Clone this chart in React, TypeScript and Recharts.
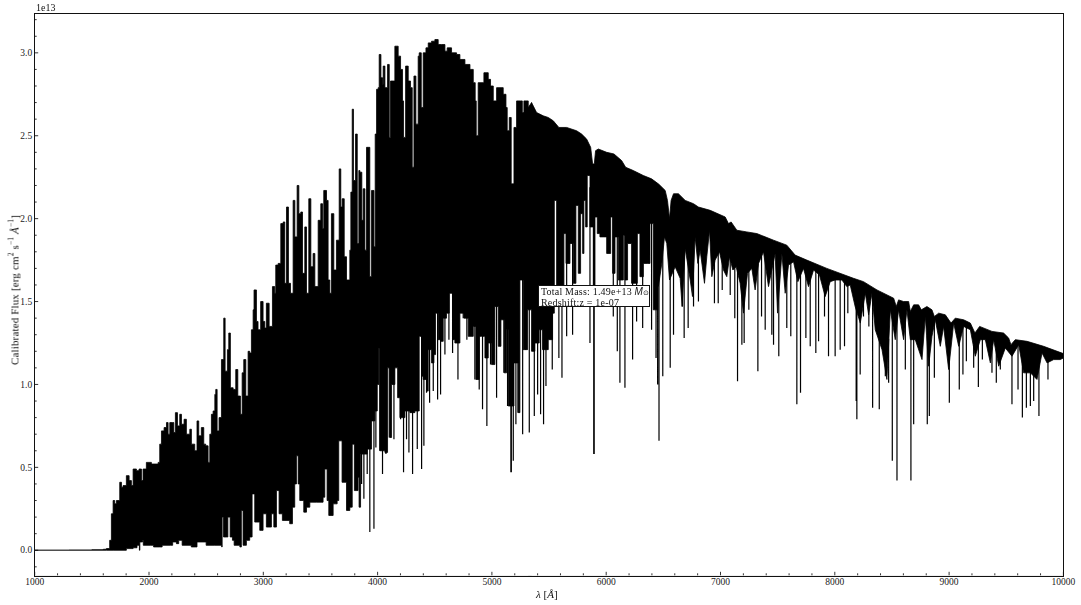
import { ComposedChart, Area, Line, XAxis, YAxis } from 'recharts'

const FONT = '"Liberation Serif", serif'
const WIDTH = 1081
const HEIGHT = 605
const Y_MIN = -0.151
const Y_MAX = 3.236
// above these wavelengths the edges of the spectrum stop being blocky
const SMOOTH_TOP_FROM = 5318
const SMOOTH_BOTTOM_FROM = 6456

const xTicks = [1000, 1200, 1400, 1600, 1800, 2000, 2200, 2400, 2600, 2800, 3000, 3200, 3400, 3600, 3800, 4000, 4200, 4400, 4600, 4800, 5000, 5200, 5400, 5600, 5800, 6000, 6200, 6400, 6600, 6800, 7000, 7200, 7400, 7600, 7800, 8000, 8200, 8400, 8600, 8800, 9000, 9200, 9400, 9600, 9800, 10000]
const yTicks = [-0.1, 0, 0.1, 0.2, 0.3, 0.4, 0.5, 0.6, 0.7, 0.8, 0.9, 1, 1.1, 1.2, 1.3, 1.4, 1.5, 1.6, 1.7, 1.8, 1.9, 2, 2.1, 2.2, 2.3, 2.4, 2.5, 2.6, 2.7, 2.8, 2.9, 3, 3.1, 3.2]

// upper edge of the spectrum, [wavelength, flux in 1e13]
const topEdge: number[][] = [
  [1000, 0], [1300, 0.001], [1500, 0.003], [1600, 0.006], [1627, 0.01], [1656, 0.06], [1671, 0.22], [1686, 0.3], [1700, 0.28], [1715, 0.3],
  [1744, 0.41], [1759, 0.38], [1773, 0.39], [1802, 0.45], [1826, 0.42], [1846, 0.39], [1861, 0.49], [1890, 0.48], [1913, 0.49], [1934, 0.42],
  [1948, 0.49], [1977, 0.53], [2021, 0.52], [2080, 0.53], [2094, 0.64], [2109, 0.72], [2132, 0.74], [2153, 0.77], [2167, 0.7], [2182, 0.77],
  [2205, 0.77], [2217, 0.71], [2231, 0.83], [2249, 0.75], [2269, 0.82], [2284, 0.76], [2307, 0.79], [2327, 0.7], [2357, 0.73], [2371, 0.64],
  [2400, 0.6], [2420, 0.78], [2435, 0.69], [2458, 0.74], [2479, 0.64], [2496, 0.63], [2517, 0.53], [2532, 0.7], [2546, 0.82], [2561, 0.84],
  [2576, 0.94], [2584, 0.97], [2596, 0.72], [2613, 0.8], [2634, 1.15], [2654, 1.4], [2666, 1.08], [2686, 1.21], [2698, 1.31], [2712, 0.98],
  [2736, 0.97], [2759, 1.09], [2777, 0.93], [2800, 0.82], [2815, 1.07], [2829, 1.15], [2847, 0.93], [2867, 1.2], [2881, 1.19], [2896, 1.33],
  [2911, 1.45], [2919, 1.57], [2940, 1.38], [2954, 1.33], [2977, 1.5], [2998, 1.38], [3013, 1.34], [3027, 1.49], [3051, 1.35], [3080, 1.59],
  [3100, 1.55], [3109, 1.72], [3130, 1.73], [3153, 1.97], [3174, 1.98], [3188, 1.61], [3203, 2.07], [3220, 1.61], [3238, 1.55], [3261, 2.11],
  [3276, 1.89], [3296, 2.2], [3311, 2.03], [3328, 2.04], [3343, 1.67], [3363, 1.95], [3378, 1.55], [3398, 2.12], [3416, 1.71], [3436, 1.79],
  [3451, 1.59], [3480, 1.99], [3503, 2.09], [3518, 1.94], [3529, 2.17], [3553, 2.11], [3567, 1.63], [3582, 1.55], [3596, 2.03], [3617, 1.69],
  [3640, 1.87], [3664, 2.3], [3678, 2.07], [3690, 2.12], [3708, 1.77], [3728, 1.63], [3757, 1.81], [3766, 2.16], [3778, 2.66], [3789, 2.23],
  [3807, 2.51], [3822, 1.85], [3836, 2.29], [3845, 2.28], [3862, 1.99], [3874, 2.18], [3889, 1.81], [3903, 2.43], [3921, 2.43], [3932, 1.65],
  [3947, 2.17], [3968, 1.83], [3979, 2.51], [3991, 2.78], [4005, 2.79], [4014, 2.99], [4029, 2.85], [4043, 2.81], [4049, 2.92], [4064, 2.79],
  [4087, 2.93], [4102, 2.49], [4113, 2.83], [4137, 2.83], [4151, 3.04], [4180, 2.98], [4201, 2.9], [4218, 2.71], [4227, 2.49], [4245, 2.92],
  [4268, 2.83], [4288, 2.79], [4303, 2.31], [4318, 2.86], [4335, 2.57], [4355, 2.98], [4364, 3.0], [4382, 2.67], [4399, 3.0], [4423, 3.03],
  [4443, 3.06], [4472, 3.07], [4501, 3.08], [4530, 3.05], [4560, 3.05], [4589, 3.01], [4609, 3.03], [4647, 3.0], [4691, 2.99], [4720, 2.96],
  [4764, 2.93], [4808, 2.9], [4837, 2.82], [4854, 2.71], [4863, 2.5], [4880, 2.82], [4930, 2.88], [4968, 2.84], [4988, 2.8], [5012, 2.71],
  [5041, 2.79], [5099, 2.75], [5123, 2.67], [5134, 2.53], [5152, 2.61], [5169, 2.21], [5181, 2.21], [5193, 2.55], [5216, 2.71], [5251, 2.71],
  [5266, 2.64], [5280, 2.71], [5318, 2.67], [5347, 2.7], [5391, 2.64], [5449, 2.62], [5493, 2.61], [5537, 2.59], [5586, 2.55], [5654, 2.55],
  [5741, 2.53], [5785, 2.51], [5829, 2.48], [5864, 2.43], [5881, 2.33], [5896, 2.33], [5907, 2.41], [5931, 2.42], [6004, 2.4], [6068, 2.39],
  [6135, 2.35], [6170, 2.31], [6237, 2.29], [6325, 2.26], [6397, 2.24], [6456, 2.21], [6472, 2.2], [6516, 2.17], [6536, 2.11], [6554, 2.0],
  [6568, 2.11], [6589, 2.15], [6632, 2.15], [6691, 2.11], [6764, 2.09], [6807, 2.07], [6910, 2.05], [7041, 2.01], [7070, 1.97], [7093, 1.98],
  [7143, 1.93], [7230, 1.92], [7318, 1.91], [7464, 1.87], [7580, 1.84], [7653, 1.78], [7755, 1.75], [7930, 1.7], [8164, 1.64], [8251, 1.62],
  [8369, 1.57], [8515, 1.52], [8538, 1.47], [8558, 1.51], [8602, 1.5], [8646, 1.5], [8661, 1.44], [8690, 1.48], [8733, 1.48], [8757, 1.45],
  [8806, 1.47], [8850, 1.45], [8871, 1.41], [8909, 1.43], [8967, 1.42], [9017, 1.37], [9054, 1.4], [9127, 1.39], [9186, 1.37], [9226, 1.31],
  [9267, 1.35], [9375, 1.32], [9477, 1.31], [9521, 1.28], [9541, 1.24], [9579, 1.27], [9682, 1.26], [9827, 1.23], [10000, 1.186],
]

// lower edge of the solid black mass
const bottomEdge: number[][] = [
  [1000, 0], [1627, 0], [1686, 0], [1802, 0.01], [1861, 0.015], [1895, 0.03], [1916, 0], [1920, 0.05], [1944, 0.06], [1950, 0.03],
  [2010, 0.03], [2040, 0.02], [2090, 0.02], [2115, 0.03], [2190, 0.03], [2207, 0.05], [2240, 0.04], [2260, 0.06], [2290, 0.03], [2370, 0.02],
  [2410, 0.02], [2420, 0.05], [2500, 0.03], [2570, 0.03], [2636, 0.02], [2640, 0.2], [2652, 0.08], [2680, 0.08], [2690, 0.2], [2710, 0.08],
  [2730, 0.06], [2745, 0.03], [2795, 0.02], [2808, 0.24], [2823, 0.03], [2852, 0.06], [2881, 0.08], [2902, 0.34], [2925, 0.17], [2969, 0.12],
  [2998, 0.22], [3027, 0.14], [3071, 0.22], [3092, 0.14], [3115, 0.36], [3138, 0.22], [3167, 0.18], [3231, 0.16], [3255, 0.26], [3275, 0.4],
  [3290, 0.57], [3305, 0.4], [3319, 0.3], [3354, 0.23], [3378, 0.26], [3407, 0.29], [3465, 0.29], [3523, 0.32], [3538, 0.49], [3558, 0.3],
  [3573, 0.21], [3611, 0.28], [3646, 0.3], [3660, 0.66], [3689, 0.41], [3728, 0.24], [3757, 0.26], [3778, 0.64], [3797, 0.36], [3829, 0.44],
  [3838, 0.26], [3851, 0.58], [3909, 0.61], [3947, 0.78], [3976, 0.84], [3997, 1.0], [4011, 1.22], [4020, 0.6], [4064, 0.59], [4087, 1.1],
  [4107, 0.68], [4122, 1.0], [4151, 1.1], [4175, 0.92], [4195, 0.8], [4239, 0.84], [4283, 0.83], [4326, 0.84], [4364, 1.29], [4385, 1.05],
  [4399, 1.03], [4428, 0.96], [4443, 1.21], [4472, 1.13], [4493, 1.18], [4507, 1.43], [4530, 1.27], [4551, 1.26], [4574, 1.4], [4603, 1.43],
  [4627, 1.55], [4656, 1.27], [4676, 1.25], [4720, 1.43], [4755, 1.4], [4793, 1.29], [4837, 1.35], [4860, 1.03], [4889, 1.29], [4910, 1.29],
  [4939, 1.16], [4968, 1.25], [4997, 1.12], [5026, 1.47], [5056, 1.23], [5079, 1.39], [5108, 1.07], [5128, 1.33], [5143, 0.87], [5193, 1.13],
  [5231, 0.83], [5245, 1.63], [5274, 1.21], [5312, 1.45], [5347, 1.2], [5376, 1.25], [5414, 1.33], [5443, 1.21], [5493, 1.27], [5531, 1.43],
  [5546, 2.11], [5566, 1.59], [5610, 1.59], [5630, 1.91], [5648, 1.73], [5683, 1.85], [5712, 1.61], [5735, 2.08], [5756, 1.67], [5776, 2.03],
  [5794, 1.79], [5805, 2.11], [5820, 1.95], [5834, 2.26], [5858, 1.95], [5887, 1.59], [5902, 2.01], [5922, 1.91], [5945, 1.89], [5974, 1.89],
  [6004, 1.79], [6039, 2.01], [6056, 1.67], [6077, 1.89], [6106, 1.63], [6150, 1.9], [6164, 1.63], [6187, 1.85], [6222, 1.61], [6272, 1.91],
  [6295, 1.65], [6325, 1.73], [6359, 1.73], [6383, 1.97], [6412, 1.45], [6456, 1.59], [6487, 1.73], [6510, 1.89], [6530, 1.85], [6554, 1.63],
  [6603, 1.71], [6647, 1.64], [6664, 1.47], [6691, 1.82], [6735, 1.63], [6755, 1.53], [6778, 1.89], [6802, 1.73], [6822, 1.81], [6860, 1.61],
  [6880, 1.77], [6904, 1.93], [6924, 1.65], [6953, 1.75], [6991, 1.8], [7026, 1.69], [7055, 1.65], [7079, 1.77], [7108, 1.69], [7137, 1.71],
  [7172, 1.61], [7201, 1.43], [7236, 1.67], [7274, 1.7], [7303, 1.57], [7333, 1.73], [7376, 1.8], [7420, 1.59], [7478, 1.79], [7499, 1.43],
  [7537, 1.79], [7566, 1.55], [7595, 1.72], [7639, 1.74], [7677, 1.62], [7726, 1.7], [7770, 1.59], [7814, 1.69], [7866, 1.66], [7916, 1.53],
  [7960, 1.62], [8003, 1.63], [8062, 1.63], [8105, 1.59], [8135, 1.6], [8178, 1.47], [8223, 1.37], [8267, 1.55], [8296, 1.42], [8325, 1.55],
  [8354, 1.33], [8413, 1.21], [8456, 1.03], [8486, 1.45], [8529, 1.27], [8558, 1.45], [8602, 1.27], [8631, 1.45], [8661, 1.27], [8704, 1.27],
  [8763, 1.15], [8792, 1.41], [8821, 1.11], [8850, 1.29], [8879, 1.39], [8923, 1.23], [8952, 1.35], [8996, 1.09], [9040, 1.37], [9084, 1.23],
  [9127, 1.35], [9186, 1.33], [9229, 1.17], [9273, 1.27], [9317, 1.27], [9361, 1.13], [9390, 1.27], [9434, 1.11], [9492, 1.22], [9550, 1.17],
  [9609, 1.24], [9652, 1.07], [9711, 1.07], [9769, 1.03], [9813, 1.19], [9857, 1.13], [9915, 1.15], [9973, 1.15], [10000, 1.16],
]

// narrow absorption lines reaching below the mass
const dipLines: number[][] = [
  [3860, 0.4], [3880, 0.31], [3909, 0.46], [3932, 0.11], [3968, 0.13], [3985, 0.62], [4020, 0.6], [4043, 0.46], [4073, 0.58], [4102, 0.68],
  [4143, 0.67], [4201, 0.79], [4227, 0.47], [4253, 0.67], [4274, 0.59], [4306, 0.46], [4347, 0.61], [4385, 0.49], [4405, 0.63], [4428, 0.95],
  [4455, 0.89], [4487, 0.96], [4525, 0.91], [4551, 0.94], [4589, 1.18], [4624, 1.27], [4656, 1.19], [4703, 1.03], [4749, 1.4], [4781, 1.27],
  [4851, 1.03], [4889, 0.97], [4918, 0.85], [4956, 0.75], [4988, 1.12], [5041, 0.92], [5105, 1.07], [5137, 0.87], [5166, 0.47], [5170, 0.47],
  [5187, 0.54], [5210, 0.76], [5228, 0.83], [5269, 0.7], [5295, 1.21], [5327, 0.71], [5371, 0.81], [5400, 0.94], [5426, 0.82], [5452, 0.76],
  [5473, 0.99], [5528, 1.09], [5586, 1.16], [5613, 1.04], [5654, 1.29], [5706, 1.3], [5858, 1.25], [5891, 0.58], [5895, 0.58], [6062, 1.41],
  [6097, 1.2], [6120, 1.01], [6164, 0.98], [6231, 1.15], [6266, 1.38], [6319, 1.34], [6397, 1.33], [6436, 1.16], [6450, 1.0], [6462, 0.66],
  [6495, 1.05], [6560, 1.1], [6589, 1.3], [6667, 1.47], [6682, 1.28], [6717, 1.34], [6764, 1.47], [6807, 1.5], [6947, 1.49], [6980, 1.49],
  [7015, 1.57], [7085, 1.54], [7125, 1.4], [7149, 1.02], [7187, 1.24], [7207, 1.25], [7248, 1.45], [7327, 1.08], [7359, 1.41], [7391, 1.33],
  [7449, 1.3], [7464, 1.24], [7510, 1.17], [7580, 1.34], [7615, 1.29], [7668, 0.88], [7700, 0.95], [7747, 1.28], [7785, 1.23], [7834, 1.19],
  [7858, 1.26], [7910, 1.41], [7945, 1.17], [8003, 1.17], [8047, 1.21], [8085, 1.23], [8114, 1.43], [8187, 0.9], [8193, 0.79], [8222, 1.06],
  [8251, 1.41], [8298, 1.35], [8331, 0.86], [8389, 0.85], [8442, 1.05], [8471, 1.01], [8503, 0.54], [8544, 0.42], [8617, 1.09], [8666, 0.42],
  [8690, 0.76], [8809, 0.76], [8827, 0.81], [8871, 1.04], [9002, 0.89], [9089, 0.97], [9121, 1.06], [9151, 1.14], [9215, 1.1], [9256, 0.985],
  [9291, 1.15], [9375, 1.07], [9413, 1.01], [9448, 1.09], [9550, 0.88], [9603, 0.97], [9641, 0.8], [9676, 0.86], [9711, 0.87], [9740, 0.9],
  [9786, 0.81], [9865, 1.03],
]

const toRows = (pairs: number[][]) => pairs.map(([wave, flux]) => ({ wave, flux }))
const topRows = toRows(topEdge)
const bottomRows = toRows(bottomEdge)
// the two pieces of each edge overlap a little so no seam shows between them
const blockyTop = topRows.filter((r) => r.wave <= SMOOTH_TOP_FROM + 40)
const smoothTop = topRows.filter((r) => r.wave >= SMOOTH_TOP_FROM)
const blockyBottom = bottomRows.filter((r) => r.wave <= SMOOTH_BOTTOM_FROM + 40)
const smoothBottom = bottomRows.filter((r) => r.wave >= SMOOTH_BOTTOM_FROM)

const nearest = (pairs: number[][], wave: number) =>
  pairs.reduce((best, p) => (Math.abs(p[0] - wave) < Math.abs(best[0] - wave) ? p : best))[1]

// each dip is its own vertical stroke, anchored inside the black mass, null breaks the line
const dipRows = dipLines.flatMap(([wave, flux]) => [
  { wave, flux },
  { wave, flux: (nearest(topEdge, wave) + nearest(bottomEdge, wave)) / 2 },
  { wave, flux: null },
])

const XTick = ({ x, y, payload }: any) => {
  const major = payload.value % 1000 === 0
  return (
    <g>
      <line x1={x} x2={x} y1={y} y2={y - (major ? 3.5 : 2)} stroke="#000" strokeWidth={0.8} />
      {major && (
        <text x={x} y={y + 10} textAnchor="middle" fontSize={9.5} fontFamily={FONT} fill="#222">
          {payload.value}
        </text>
      )}
    </g>
  )
}

const YTick = ({ x, y, payload }: any) => {
  const major = Math.abs(payload.value * 2 - Math.round(payload.value * 2)) < 1e-6
  return (
    <g>
      <line x1={x} x2={x + (major ? 3.5 : 2)} y1={y} y2={y} stroke="#000" strokeWidth={0.8} />
      {major && (
        <text x={x - 2.5} y={y + 3.2} textAnchor="end" fontSize={9.5} fontFamily={FONT} fill="#222">
          {payload.value.toFixed(1)}
        </text>
      )}
    </g>
  )
}

const textStyle = { position: 'absolute', fontFamily: FONT, fontSize: 10, color: '#111', whiteSpace: 'nowrap', lineHeight: 1, willChange: 'transform' } as const
const supStyle = { fontSize: 7.5, lineHeight: 0 }

export default function App() {
  return (
    <div style={{ position: 'absolute', left: 0, top: 0, width: WIDTH, height: HEIGHT, background: '#fff', overflow: 'hidden' }}>
      <ComposedChart width={WIDTH} height={HEIGHT} margin={{ top: 13.7, right: 17.6, bottom: 28.7, left: 33.7 }}>
        <Area data={blockyTop} dataKey="flux" type="stepAfter" baseValue={Y_MIN} fill="#000" fillOpacity={1} stroke="#000" strokeWidth={0.8} dot={false} activeDot={false} isAnimationActive={false} />
        <Area data={smoothTop} dataKey="flux" type="linear" baseValue={Y_MIN} fill="#000" fillOpacity={1} stroke="#000" strokeWidth={0.8} dot={false} activeDot={false} isAnimationActive={false} />
        <Area data={blockyBottom} dataKey="flux" type="stepAfter" baseValue={Y_MIN} fill="#fff" fillOpacity={1} stroke="#000" strokeWidth={0.8} dot={false} activeDot={false} isAnimationActive={false} />
        <Area data={smoothBottom} dataKey="flux" type="linear" baseValue={Y_MIN} fill="#fff" fillOpacity={1} stroke="#000" strokeWidth={0.8} dot={false} activeDot={false} isAnimationActive={false} />
        <Line data={dipRows} dataKey="flux" type="linear" stroke="#000" strokeWidth={1.2} dot={false} activeDot={false} connectNulls={false} isAnimationActive={false} />
        <XAxis
          dataKey="wave"
          type="number"
          domain={[1000, 10000]}
          ticks={xTicks}
          interval={0}
          height={1}
          tickSize={0}
          tickMargin={0}
          tickLine={false}
          axisLine={false}
          tick={XTick}
          allowDataOverflow
        />
        <YAxis
          type="number"
          domain={[Y_MIN, Y_MAX]}
          ticks={yTicks}
          interval={0}
          width={1}
          tickSize={0}
          tickMargin={0}
          tickLine={false}
          axisLine={false}
          tick={YTick}
          allowDataOverflow
        />
      </ComposedChart>

      <div style={{ position: 'absolute', left: 34, top: 13, width: 1028, height: 561.5, border: '1px solid #111', pointerEvents: 'none' }} />

      <div style={{ ...textStyle, left: 36, top: 3 }}>1e13</div>
      <div style={{ ...textStyle, left: 536, top: 589, fontSize: 11 }}>
        <i>λ</i> [<i>Å</i>]
      </div>
      <div style={{ ...textStyle, left: 15, top: 290, fontSize: 11, letterSpacing: 0.15, transform: 'translate(-50%, -50%) rotate(-90deg)' }}>
        Calibrated Flux [erg cm<sup style={supStyle}>2</sup> s<sup style={supStyle}>−1</sup> <i>Å</i><sup style={supStyle}>−1</sup>]
      </div>
      <div
        style={{
          ...textStyle,
          left: 538,
          top: 285,
          width: 112,
          height: 22,
          boxSizing: 'border-box',
          background: '#fff',
          border: '1px solid #111',
          padding: '1px 2px',
          fontSize: 10,
          lineHeight: '10px',
          letterSpacing: 0.2,
        }}
      >
        <div>Total Mass: 1.49e+13 <i style={{ fontFamily: 'Liberation Sans' }}>M</i><span style={{ fontSize: 7 }}>⊙</span></div>
        <div>Redshift:z = 1e-07</div>
      </div>
    </div>
  )
}
